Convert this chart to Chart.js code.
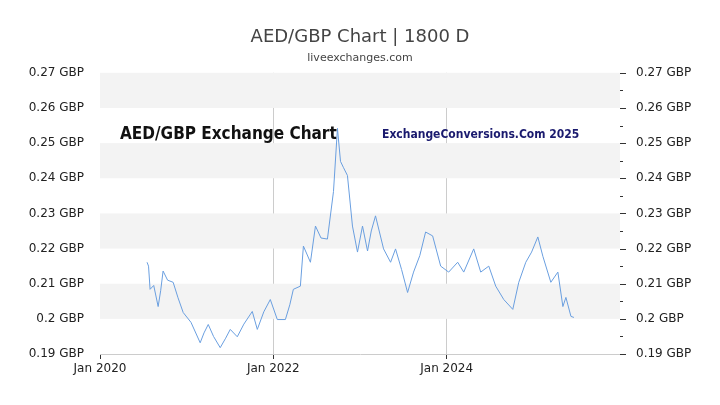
<!DOCTYPE html>
<html>
<head>
<meta charset="utf-8">
<script src="https://cdn.jsdelivr.net/npm/chart.js@4"></script>
<style>
  body { margin: 0; background: #fff; }
  #wrap { width: 720px; height: 405px; }
</style>
</head>
<body>
<div id="wrap"><canvas id="myChart"></canvas></div>
<script>
// dates as decimal years, values in GBP per AED
const dates = [2020.543, 2020.56, 2020.578, 2020.62, 2020.671, 2020.70, 2020.728, 2020.78, 2020.844, 2020.90, 2020.960,
  2021.05, 2021.156, 2021.20, 2021.249, 2021.31, 2021.387, 2021.45, 2021.503, 2021.584, 2021.66, 2021.757, 2021.815,
  2021.89, 2021.965, 2022.046, 2022.139, 2022.19, 2022.231, 2022.312, 2022.347, 2022.428, 2022.486, 2022.55, 2022.624,
  2022.694, 2022.740, 2022.775, 2022.81, 2022.855, 2022.913, 2022.971, 2023.029, 2023.087, 2023.13, 2023.179, 2023.272,
  2023.353, 2023.410, 2023.48, 2023.549, 2023.618, 2023.69, 2023.757, 2023.838, 2023.931, 2024.023, 2024.127, 2024.197,
  2024.312, 2024.393, 2024.486, 2024.566, 2024.659, 2024.763, 2024.832, 2024.913, 2024.98, 2025.052, 2025.110, 2025.202,
  2025.283, 2025.341, 2025.376, 2025.434, 2025.468];
const rates = [0.2161, 0.2150, 0.2084, 0.2095, 0.2035, 0.2080, 0.2136, 0.2110, 0.2104, 0.2060, 0.2018,
  0.1990, 0.1932, 0.1960, 0.1984, 0.1950, 0.1918, 0.1945, 0.1970, 0.1949, 0.1985, 0.2021, 0.1970,
  0.2020, 0.2055, 0.1998, 0.1998, 0.2040, 0.2084, 0.2093, 0.2207, 0.2161, 0.2264, 0.2230, 0.2227,
  0.2362, 0.2542, 0.2448, 0.2430, 0.2408, 0.2264, 0.2190, 0.2264, 0.2193, 0.2250, 0.2293, 0.2199,
  0.2161, 0.2199, 0.2140, 0.2075, 0.2133, 0.2180, 0.2247, 0.2236, 0.2150, 0.2133, 0.2161, 0.2133,
  0.2199, 0.2133, 0.2150, 0.2093, 0.2055, 0.2027, 0.2104, 0.2161, 0.2190, 0.2233, 0.2178, 0.2104,
  0.2133, 0.2035, 0.2061, 0.2007, 0.2004];
const yTicks = [0.19, 0.20, 0.21, 0.22, 0.23, 0.24, 0.25, 0.26, 0.27];
const xTicks = [2020, 2022, 2024];

const chartTitle = "AED/GBP Chart | 1800 D";
const chartSub = "liveexchanges.com";
const overlayLeft = "AED/GBP Exchange Chart";
const overlayRight = "ExchangeConversions.Com 2025";

const fmt = v => parseFloat(v.toFixed(2)) + " GBP";

const decor = {
  id: "decor",
  beforeDatasetsDraw(chart) {
    const { ctx, chartArea: a, scales: { y } } = chart;
    ctx.save();
    ctx.fillStyle = "#f3f3f3";
    for (let v = 0.20; v < 0.27; v += 0.02) {
      const t = y.getPixelForValue(v + 0.01), b = y.getPixelForValue(v);
      ctx.fillRect(a.left, t, a.right - a.left, b - t);
    }
    ctx.restore();
  },
  afterDraw(chart) {
    const { ctx, chartArea: a, scales: { y } } = chart;
    ctx.save();
    // minor ticks on right axis
    ctx.strokeStyle = "#333";
    ctx.lineWidth = 1;
    for (let v = 0.19; v <= 0.2701; v += 0.005) {
      const p = Math.round(y.getPixelForValue(v)) + 0.5;
      ctx.beginPath();
      ctx.moveTo(a.right, p);
      ctx.lineTo(a.right + (Math.round(v * 1000) % 10 === 0 ? 6 : 3), p);
      ctx.stroke();
    }
    ctx.fillStyle = "#111";
    ctx.font = "bold 17px 'Liberation Sans Narrow', 'DejaVu Sans Condensed', sans-serif";
    ctx.textBaseline = "middle";
    ctx.fillText(overlayLeft, 120, 135);
    ctx.fillStyle = "#1a1a6e";
    ctx.font = "bold 12px 'Liberation Sans Narrow', 'DejaVu Sans Condensed', sans-serif";
    ctx.fillText(overlayRight, 382, 135);
    ctx.restore();
  }
};

const yAxis = (pos) => ({
  type: "linear", position: pos, min: 0.19, max: 0.27,
  afterBuildTicks: ax => { ax.ticks = yTicks.map(v => ({ value: v })); },
  afterFit: ax => { ax.width = 100; },
  grid: { display: false },
  border: { display: false },
  ticks: { color: "#222", font: { size: 12, family: "DejaVu Sans" }, callback: fmt, padding: 8 }
});

new Chart(document.getElementById("myChart"), {
  type: "line",
  data: {
    datasets: [{
      data: dates.map((d, i) => ({ x: d, y: rates[i] })),
      borderColor: "#6a9fe0",
      borderWidth: 1,
      pointRadius: 0,
      tension: 0
    }]
  },
  options: {
    responsive: true,
    maintainAspectRatio: false,
    animation: false,
    layout: { padding: 0 },
    plugins: {
      legend: { display: false },
      tooltip: { enabled: false },
      title: { display: true, text: chartTitle, color: "#444", font: { size: 18, family: "DejaVu Sans", weight: "normal" }, padding: { top: 27, bottom: 3 } },
      subtitle: { display: true, text: chartSub, color: "#444", font: { size: 11, family: "DejaVu Sans" }, padding: { bottom: 8 } }
    },
    scales: {
      x: {
        type: "linear", min: 2020, max: 2026,
        afterBuildTicks: ax => { ax.ticks = xTicks.map(v => ({ value: v })); },
        afterFit: ax => { ax.height = 51; },
        grid: { color: c => c.tick && c.tick.value === 2020 ? "rgba(0,0,0,0)" : "#cccccc", tickColor: "#333", tickLength: 5 },
        border: { color: "#ccc" },
        ticks: { color: "#222", font: { size: 12, family: "DejaVu Sans" }, callback: v => "Jan " + v, maxRotation: 0 }
      },
      y: yAxis("left"),
      y2: yAxis("right")
    }
  },
  plugins: [decor]
});
</script>
</body>
</html>
